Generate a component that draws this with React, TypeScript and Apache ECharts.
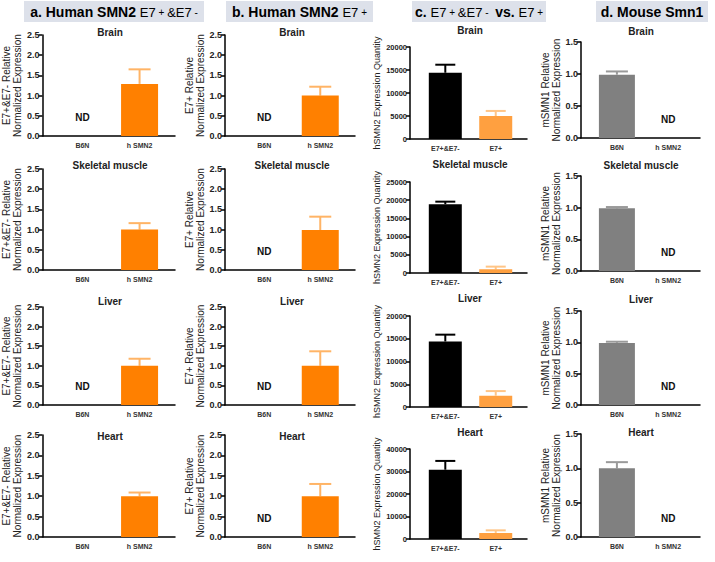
import React, { useEffect, useRef } from "react";
import * as echarts from "echarts";

// ---------------- data ----------------
const tissues = ["Brain", "Skeletal muscle", "Liver", "Heart"];
const mouseGroups = ["B6N", "h SMN2"];
const isoformGroups = ["E7+&E7-", "E7+"];

// a. Human SMN2 E7+&E7- (relative expression, h SMN2 group; B6N not detected)
const aMean = [1.29, 1.0, 1.0, 1.0];
const aErr = [0.36, 0.16, 0.18, 0.09];
const aND = [true, false, true, false];

// b. Human SMN2 E7+
const bMean = [1.0, 0.99, 1.0, 1.0];
const bErr = [0.22, 0.33, 0.37, 0.3];
const bND = [true, true, true, true];

// c. E7+&E7- vs E7+ (expression quantity)
const cTotalMean = [14400, 18900, 14400, 30800];
const cTotalErr = [1750, 700, 1500, 3900];
const cE7Mean = [5000, 1000, 2500, 2700];
const cE7Err = [1100, 750, 1000, 1150];
const cMax = [20000, 25000, 20000, 40000];
const cInterval = [5000, 5000, 5000, 10000];

// d. Mouse Smn1 (B6N group; h SMN2 not detected)
const dMean = [0.99, 0.99, 0.99, 1.0];
const dErr = [0.05, 0.02, 0.02, 0.09];
const dND = [true, true, true, true];

const abMax = 2.5;
const dMax = 1.5;

const yNames = [
  "E7+&E7- Relative\nNormalized Expression",
  "E7+ Relative\nNormalized Expression",
  "hSMN2 Expression Quantity",
  "mSMN1 Relative\nNormalized Expression",
];

// ---------------- layout ----------------
const colLeft = [42, 225, 410, 581];
const colRight = [175, 355, 527, 700];
const titleX = [110, 292, 470, 641];
const rowTop = [
  [35, 169, 307, 435],
  [35, 169, 307, 435],
  [47, 182, 316, 449],
  [42, 176, 311, 434],
];
const rowBottom = [
  [136, 270, 405, 537],
  [136, 270, 405, 537],
  [139, 273, 407, 539],
  [138, 271, 405, 537],
];
const titleY = [
  [33, 166, 302, 437],
  [33, 166, 302, 437],
  [31, 165, 299, 433],
  [32, 166, 300, 433],
];
const nameGaps = [12, 10, 24, 17];

const ORANGE = "#ff8000";
const ORANGE_ERR = "#ffb466";
const LIGHT_ORANGE = "#ffa040";
const LIGHT_ORANGE_ERR = "#ffc587";
const GRAY = "#808080";
const GRAY_ERR = "#9a9a9a";
const PINK = "#e8408c";
const PURPLE = "#7a2f9a";
const FONT = "Liberation Sans, Arial, sans-serif";

function errorRenderer(capHalf: number) {
  return (params: any, api: any) => {
    const x = api.value(0);
    const m = api.value(1);
    const e = api.value(2);
    const p0 = api.coord([x, m]);
    const p1 = api.coord([x, m + e]);
    const stroke = api.visual("color");
    return {
      type: "group",
      children: [
        {
          type: "line",
          shape: { x1: p0[0], y1: p0[1], x2: p1[0], y2: p1[1] },
          style: { stroke, lineWidth: 2 },
        },
        {
          type: "line",
          shape: { x1: p1[0] - capHalf, y1: p1[1], x2: p1[0] + capHalf, y2: p1[1] },
          style: { stroke, lineWidth: 2 },
        },
      ],
    };
  };
}

function ndRenderer(params: any, api: any) {
  const p = api.coord([api.value(0), 0]);
  return {
    type: "text",
    x: p[0],
    y: p[1] - 19,
    style: {
      text: "ND",
      fill: "#111",
      font: `bold 10px ${FONT}`,
      align: "center",
      verticalAlign: "middle",
    },
  };
}

function buildOption() {
  const grid: any[] = [];
  const xAxis: any[] = [];
  const yAxis: any[] = [];
  const series: any[] = [];
  const title: any[] = [];

  for (let r = 0; r < 4; r++) {
    for (let c = 0; c < 4; c++) {
      const idx = grid.length;
      grid.push({
        left: colLeft[c],
        top: rowTop[c][r],
        width: colRight[c] - colLeft[c],
        height: rowBottom[c][r] - rowTop[c][r],
        containLabel: false,
      });
      title.push({
        text: tissues[r],
        left: titleX[c],
        top: titleY[c][r] - 6,
        textAlign: "center",
        padding: 0,
        textStyle: { fontSize: 10, fontWeight: "bold", color: "#222", fontFamily: FONT },
      });
      const groups = c === 2 ? isoformGroups : mouseGroups;
      xAxis.push({
        gridIndex: idx,
        type: "value",
        min: -0.7,
        max: 1.62,
        axisLine: { show: true, onZero: false, lineStyle: { color: "#000", width: 1.5 } },
        axisTick: { show: false },
        splitLine: { show: false },
        axisLabel: {
          customValues: [0, 1],
          formatter: (v: number) => groups[Math.round(v)] ?? "",
          fontSize: 7,
          fontWeight: "bold",
          color: "#333",
          fontFamily: FONT,
          margin: 6,
        },
      });
      const isC = c === 2;
      const max = isC ? cMax[r] : c === 3 ? dMax : abMax;
      const interval = isC ? cInterval[r] : 0.5;
      yAxis.push({
        gridIndex: idx,
        type: "value",
        min: 0,
        max,
        interval,
        axisLine: { show: true, onZero: false, lineStyle: { color: "#000", width: 1.5 } },
        axisTick: { show: true, length: 4, lineStyle: { color: "#000", width: 1.5 } },
        splitLine: { show: false },
        axisLabel: {
          formatter: (v: number) => (isC ? String(v) : v.toFixed(1)),
          fontSize: isC ? 7.5 : 9,
          fontWeight: "bold",
          color: "#222",
          fontFamily: FONT,
          margin: 3,
        },
        name: yNames[c],
        nameLocation: "middle",
        nameRotate: 90,
        nameGap: nameGaps[c],
        nameTextStyle: {
          fontSize: isC ? 9 : 10,
          color: "#222",
          fontFamily: FONT,
          lineHeight: 11,
        },
      });

      const barW = c === 2 ? 33 : c === 3 ? 36 : 37;
      const capHalf = Math.round(barW * 0.3);
      if (c === 0 || c === 1) {
        const mean = c === 0 ? aMean[r] : bMean[r];
        const err = c === 0 ? aErr[r] : bErr[r];
        const nd = c === 0 ? aND[r] : bND[r];
        series.push({
          type: "bar",
          xAxisIndex: idx,
          yAxisIndex: idx,
          barWidth: barW,
          itemStyle: { color: ORANGE },
          data: [[1, mean]],
        });
        series.push({
          type: "custom",
          xAxisIndex: idx,
          yAxisIndex: idx,
          itemStyle: { color: ORANGE_ERR },
          renderItem: errorRenderer(capHalf),
          data: [[1, mean, err]],
          z: 1,
        });
        if (nd) {
          series.push({
            type: "custom",
            xAxisIndex: idx,
            yAxisIndex: idx,
            renderItem: ndRenderer,
            data: [[0, 0]],
          });
        }
      } else if (c === 2) {
        series.push({
          type: "bar",
          xAxisIndex: idx,
          yAxisIndex: idx,
          barWidth: barW,
          data: [
            { value: [0, cTotalMean[r]], itemStyle: { color: "#000" } },
            { value: [1, cE7Mean[r]], itemStyle: { color: LIGHT_ORANGE } },
          ],
        });
        series.push({
          type: "custom",
          xAxisIndex: idx,
          yAxisIndex: idx,
          itemStyle: { color: "#000" },
          renderItem: errorRenderer(capHalf),
          data: [[0, cTotalMean[r], cTotalErr[r]]],
          z: 1,
        });
        series.push({
          type: "custom",
          xAxisIndex: idx,
          yAxisIndex: idx,
          itemStyle: { color: LIGHT_ORANGE_ERR },
          renderItem: errorRenderer(capHalf),
          data: [[1, cE7Mean[r], cE7Err[r]]],
          z: 1,
        });
      } else {
        series.push({
          type: "bar",
          xAxisIndex: idx,
          yAxisIndex: idx,
          barWidth: barW,
          itemStyle: { color: GRAY },
          data: [[0, dMean[r]]],
        });
        series.push({
          type: "custom",
          xAxisIndex: idx,
          yAxisIndex: idx,
          itemStyle: { color: GRAY_ERR },
          renderItem: errorRenderer(capHalf),
          data: [[0, dMean[r], dErr[r]]],
          z: 1,
        });
        if (dND[r]) {
          series.push({
            type: "custom",
            xAxisIndex: idx,
            yAxisIndex: idx,
            renderItem: ndRenderer,
            data: [[1, 0]],
          });
        }
      }
    }
  }

  const HF = "Liberation Sans Narrow, Liberation Sans, Arial, sans-serif";
  const rich = {
    k: { fontSize: 14, fontWeight: "bold", color: "#111", fontFamily: HF },
    p: { fontSize: 13, color: PINK, fontFamily: HF },
    ps: { fontSize: 10, color: PINK, fontFamily: HF },
    u: { fontSize: 13, color: PURPLE, fontFamily: HF },
    us: { fontSize: 10, color: PURPLE, fontFamily: HF },
  };
  const headers = [
    { x: 24, w: 180, text: "{k|a. Human SMN2 }{p|E7}{ps| + }{p|&E7}{ps| -}" },
    { x: 226, w: 147, text: "{k|b. Human SMN2 }{u|E7}{us| +}" },
    { x: 412, w: 134, text: "{k|c. }{p|E7}{ps| + }{p|&E7}{ps| - }{k| vs. }{u|E7}{us| +}" },
    { x: 596, w: 112, text: "{k|d. Mouse Smn1}" },
  ];
  const graphic: any[] = [];
  headers.forEach((h) => {
    graphic.push({
      type: "rect",
      shape: { x: h.x, y: 1, width: h.w, height: 21 },
      style: { fill: "#dde1ea" },
      silent: true,
    });
    graphic.push({
      type: "text",
      x: h.x + h.w / 2,
      y: 12,
      style: {
        text: h.text,
        rich,
        align: "center",
        verticalAlign: "middle",
      },
      silent: true,
    });
  });

  return { animation: false, backgroundColor: "#fff", title, grid, xAxis, yAxis, series, graphic };
}

export default function App() {
  const ref = useRef<HTMLDivElement>(null);
  useEffect(() => {
    if (!ref.current) return;
    const chart = echarts.init(ref.current, undefined, { renderer: "svg" });
    chart.setOption(buildOption() as any);
    return () => chart.dispose();
  }, []);
  return (
    <div
      ref={ref}
      style={{ width: 715, height: 562, position: "absolute", left: 0, top: 0 }}
    />
  );
}
